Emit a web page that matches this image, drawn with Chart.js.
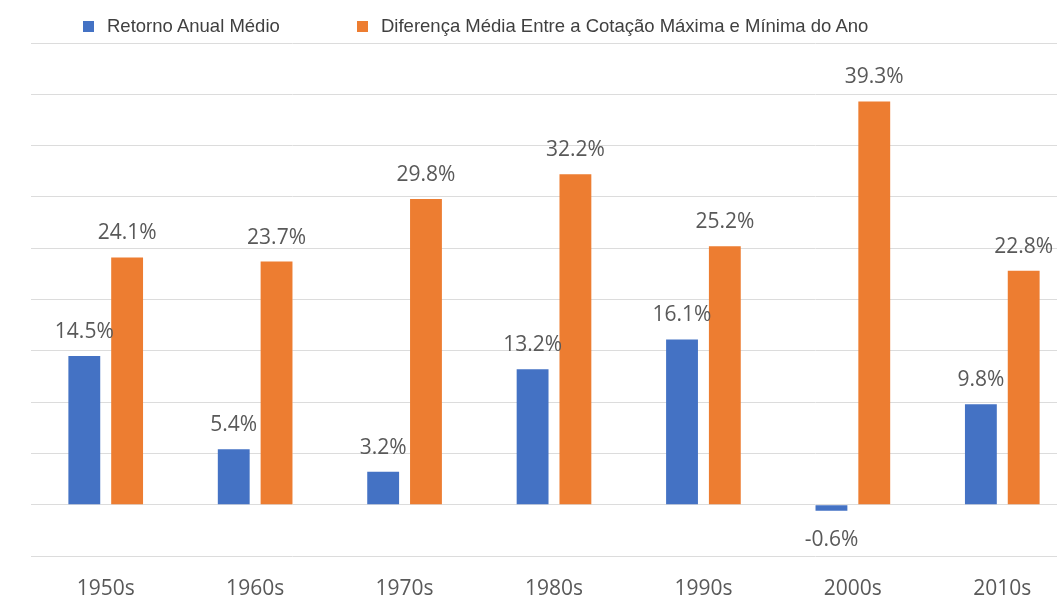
<!DOCTYPE html>
<html>
<head>
<meta charset="utf-8">
<script src="https://cdn.jsdelivr.net/npm/chart.js@4"></script>
<style>
  body { margin: 0; background: #fff; overflow: hidden; }
  #wrap { position: relative; width: 1057px; height: 614px; overflow: hidden; }
  canvas { display: block; }
  .legend { position: absolute; top: 15px; font-family: "Liberation Sans", Arial, sans-serif; font-size: 18.5px; line-height: 22px; color: #404040; white-space: nowrap; }
  .legend span.box { position: absolute; top: 6px; width: 11px; height: 11px; }
  .legend span.txt { position: absolute; left: 24px; top: 0; }
</style>
</head>
<body>
<div id="wrap">
  <canvas id="chart" width="1090" height="614"></canvas>
  <div class="legend" style="left:83px"><span class="box" style="background:#4472C4"></span><span class="txt">Retorno Anual Médio</span></div>
  <div class="legend" style="left:357px"><span class="box" style="background:#ED7D31"></span><span class="txt">Diferença Média Entre a Cotação Máxima e Mínima do Ano</span></div>
</div>
<script>
// data
var decades = ['1950s', '1960s', '1970s', '1980s', '1990s', '2000s', '2010s'];
var retornoMedio = [14.5, 5.4, 3.2, 13.2, 16.1, -0.6, 9.8];
var diferencaMedia = [24.1, 23.7, 29.8, 32.2, 25.2, 39.3, 22.8];
var seriesNames = ['Retorno Anual Médio', 'Diferença Média Entre a Cotação Máxima e Mínima do Ano'];

// labels above (or below) each bar
var valueLabels = {
  id: 'valueLabels',
  afterDatasetsDraw: function(chart) {
    var ctx = chart.ctx;
    ctx.save();
    ctx.font = '21px "Open Sans", sans-serif';
    ctx.fillStyle = '#595959';
    ctx.textAlign = 'center';
    ctx.textBaseline = 'middle';
    chart.data.datasets.forEach(function(ds, i) {
      chart.getDatasetMeta(i).data.forEach(function(bar, j) {
        var v = ds.data[j];
        var y = v < 0 ? bar.y + 29 : bar.y - 24;
        ctx.fillText(v.toFixed(1) + '%', bar.x, y);
      });
    });
    ctx.restore();
  }
};

var ctx = document.getElementById('chart').getContext('2d');
var myChart = new Chart(ctx, {
  type: 'bar',
  data: {
    labels: decades,
    datasets: [{
      label: seriesNames[0],
      data: retornoMedio,
      backgroundColor: '#4472C4',
      categoryPercentage: 0.573,
      barPercentage: 0.744
    }, {
      label: seriesNames[1],
      data: diferencaMedia,
      backgroundColor: '#ED7D31',
      categoryPercentage: 0.573,
      barPercentage: 0.744
    }]
  },
  options: {
    responsive: false,
    animation: false,
    layout: { padding: { left: 31, right: 13, top: 43, bottom: 0 } },
    plugins: {
      legend: { display: false },
      tooltip: { enabled: false }
    },
    scales: {
      x: {
        grid: { display: false },
        border: { display: false },
        ticks: {
          color: '#595959',
          font: { family: 'Open Sans', size: 21 },
          padding: 12
        },
        afterFit: function(s) { s.height = 58; }
      },
      y: {
        min: -5,
        max: 45,
        border: { display: false },
        grid: { color: '#dcdcdc', drawTicks: false },
        ticks: { display: false, stepSize: 5 },
        afterFit: function(s) { s.width = 0; }
      }
    }
  },
  plugins: [valueLabels]
});
</script>
</body>
</html>
